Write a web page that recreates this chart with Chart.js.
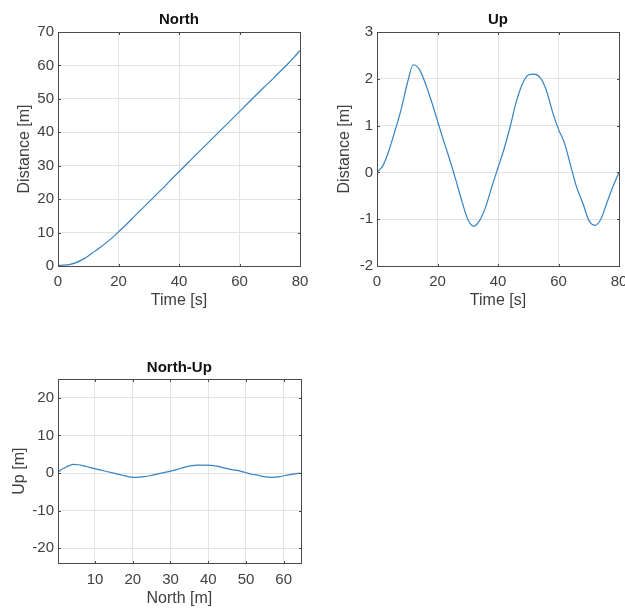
<!DOCTYPE html>
<html>
<head>
<meta charset="utf-8">
<script src="https://cdn.jsdelivr.net/npm/chart.js@4"></script>
<style>
  html, body { margin: 0; padding: 0; background: #fff; overflow: hidden; width: 625px; height: 610px; }
  canvas { position: absolute; }
</style>
</head>
<body>
<canvas id="northChart" width="320" height="320" style="left:0;top:0;width:320px;height:320px"></canvas>
<canvas id="upChart" width="320" height="320" style="left:320px;top:0;width:320px;height:320px"></canvas>
<canvas id="northUpChart" width="320" height="275" style="left:0;top:340px;width:320px;height:275px"></canvas>
<script>
const time = [0, 2, 4, 6, 8, 10, 12, 14, 16, 18, 20, 22, 24, 26, 28, 30, 32, 34, 36, 38, 40,
    42, 44, 46, 48, 50, 52, 54, 56, 58, 60, 62, 64, 66, 68, 70, 72, 74, 76, 78, 80];
const north = [0.2, 0.25, 0.5, 1.0, 1.9, 3.0, 4.3, 5.6, 7.0, 8.5, 10.2, 11.9, 13.7, 15.5, 17.3, 19.1, 20.9,
    22.7, 24.5, 26.4, 28.2, 30.0, 31.8, 33.6, 35.4, 37.2, 39.0, 40.8, 42.6, 44.4, 46.2, 48.0, 49.8,
    51.6, 53.4, 55.1, 56.9, 58.7, 60.5, 62.4, 64.5];
const up = [0, 0.15, 0.48, 0.9, 1.35, 1.9, 2.3, 2.2, 1.9, 1.52, 1.1, 0.68, 0.28, -0.15, -0.6, -1.0, -1.15,
    -1.02, -0.72, -0.3, 0.1, 0.5, 0.97, 1.5, 1.88, 2.08, 2.1, 2.02, 1.75, 1.3, 0.92, 0.62, 0.15,
    -0.32, -0.65, -1.02, -1.13, -1.0, -0.65, -0.3, 0];

const timeTicks = [0, 20, 40, 60, 80];
const northTicks = [0, 10, 20, 30, 40, 50, 60, 70];
const upTicks = [-2, -1, 0, 1, 2, 3];
const northUpXTicks = [10, 20, 30, 40, 50, 60];
const northUpYTicks = [-20, -10, 0, 10, 20];
const northUpYRange = [-24, 25];

const FONT = '"Liberation Sans", Arial, Helvetica, sans-serif';
const LINE = '#3583c3';
const GRID = '#e3e3e3';
const TEXT = '#404040';

// box around the plot area, with small inward ticks on all four sides
const boxPlugin = {
    id: 'box',
    afterDraw(chart) {
        const a = chart.chartArea;
        const ctx = chart.ctx;
        const L = Math.round(a.left) + 0.5, R = Math.round(a.right) + 0.5;
        const T = Math.round(a.top) + 0.5, B = Math.round(a.bottom) + 0.5;
        const tl = 2.5;
        ctx.save();
        ctx.strokeStyle = '#4a4a4a';
        ctx.lineWidth = 1;
        ctx.strokeRect(L, T, R - L, B - T);
        ctx.beginPath();
        chart.scales.x.ticks.forEach(t => {
            const px = Math.round(chart.scales.x.getPixelForValue(t.value)) + 0.5;
            ctx.moveTo(px, B); ctx.lineTo(px, B - tl);
            ctx.moveTo(px, T); ctx.lineTo(px, T + tl);
        });
        chart.scales.y.ticks.forEach(t => {
            const py = Math.round(chart.scales.y.getPixelForValue(t.value)) + 0.5;
            ctx.moveTo(L, py); ctx.lineTo(L + tl, py);
            ctx.moveTo(R, py); ctx.lineTo(R - tl, py);
        });
        ctx.stroke();
        ctx.restore();
    }
};

function pts(xs, ys) {
    return xs.map((x, i) => ({ x: x, y: ys[i] }));
}

function axis(ticks, min, max, title, opts) {
    const isX = opts.isX;
    return {
        type: 'linear',
        min: min,
        max: max,
        afterBuildTicks: (a) => { a.ticks = ticks.map(v => ({ value: v })); },
        afterFit: (a) => { if (isX) a.height = opts.size; else a.width = opts.size; },
        grid: { color: GRID, drawTicks: false },
        border: { display: false },
        ticks: {
            color: TEXT,
            font: { family: FONT, size: 15 },
            padding: isX ? opts.pad : 4,
            maxRotation: 0,
            autoSkip: false
        },
        title: {
            display: true,
            text: title,
            color: TEXT,
            font: { family: FONT, size: 16 },
            padding: isX ? { top: 0, bottom: 4 } : { top: opts.titleOff, bottom: 0 }
        }
    };
}

function makeChart(id, data, cfg) {
    return new Chart(document.getElementById(id), {
        type: 'scatter',
        data: {
            datasets: [{
                data: data,
                showLine: true,
                borderColor: LINE,
                borderWidth: 1.2,
                pointRadius: 0,
                cubicInterpolationMode: 'monotone'
            }]
        },
        options: {
            responsive: false,
            animation: false,
            layout: { padding: cfg.padding },
            plugins: {
                legend: { display: false },
                tooltip: { enabled: false },
                title: {
                    display: true,
                    fullSize: false,
                    text: cfg.title,
                    color: '#111',
                    font: { family: FONT, size: 15, weight: 'bold' },
                    padding: cfg.titlePad
                }
            },
            scales: { x: cfg.x, y: cfg.y }
        },
        plugins: [boxPlugin]
    });
}

const northChart = makeChart('northChart', pts(time, north), {
    title: 'North',
    titlePad: { top: 10.5, bottom: 3.5 },
    padding: { left: 0, right: 20, top: 0, bottom: 5.4 },
    x: axis(timeTicks, 0, 80, 'Time [s]', { isX: true, size: 48.6, pad: 6.4 }),
    y: axis(northTicks, 0, 70, 'Distance [m]', { isX: false, size: 58, titleOff: 15.4 })
});

const upChart = makeChart('upChart', pts(time, up), {
    title: 'Up',
    titlePad: { top: 10.5, bottom: 3.5 },
    padding: { left: 0, right: 21, top: 0, bottom: 5.4 },
    x: axis(timeTicks, 0, 80, 'Time [s]', { isX: true, size: 48.6, pad: 6.4 }),
    y: axis(upTicks, -2, 3, 'Distance [m]', { isX: false, size: 57, titleOff: 15.4 })
});

const northUpChart = makeChart('northUpChart', pts(north, up), {
    title: 'North-Up',
    titlePad: { top: 19, bottom: 2 },
    padding: { left: 0, right: 19.3, top: 0, bottom: 3.1 },
    x: axis(northUpXTicks, Math.min(...north), Math.max(...north), 'North [m]', { isX: true, size: 48.6, pad: 7.4 }),
    y: axis(northUpYTicks, northUpYRange[0], northUpYRange[1], 'Up [m]', { isX: false, size: 58, titleOff: 10.4 })
});
</script>
</body>
</html>
